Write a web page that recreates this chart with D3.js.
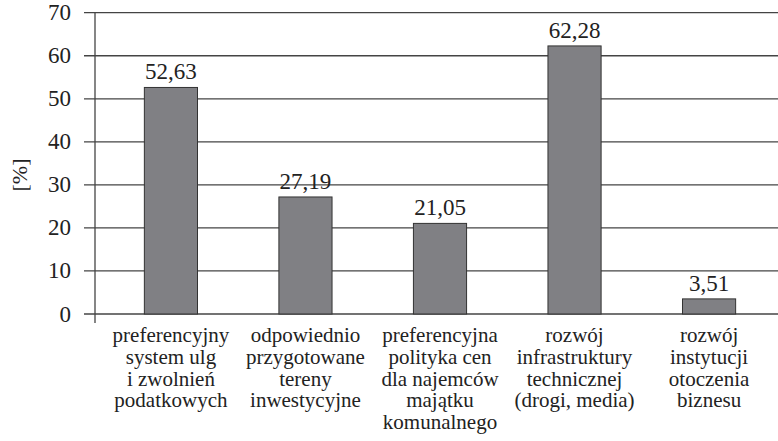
<!DOCTYPE html>
<html>
<head>
<meta charset="utf-8">
<script src="https://cdn.jsdelivr.net/npm/d3@7"></script>
<style>
  body { margin: 0; background: #fff; }
  #chart { position: relative; width: 778px; height: 441px; }
  #chart svg { position: absolute; left: 0; top: 0; }
  .lbl {
    position: absolute;
    font-family: 'Liberation Serif', 'Times New Roman', serif;
    color: #222;
    line-height: 1;
    white-space: nowrap;
  }
</style>
</head>
<body>
<div id="chart"><svg></svg></div>
<script>
const categories = [
  ['preferencyjny', 'system ulg', 'i zwolnień', 'podatkowych'],
  ['odpowiednio', 'przygotowane', 'tereny', 'inwestycyjne'],
  ['preferencyjna', 'polityka cen', 'dla najemców', 'majątku', 'komunalnego'],
  ['rozwój', 'infrastruktury', 'technicznej', '(drogi, media)'],
  ['rozwój', 'instytucji', 'otoczenia', 'biznesu']
];
const values = [52.63, 27.19, 21.05, 62.28, 3.51];
const valueLabels = ['52,63', '27,19', '21,05', '62,28', '3,51'];
const yTicks = [0, 10, 20, 30, 40, 50, 60, 70];

const s = { width: 778, height: 441 };
const axisX = 95;

window.onload = () => {
  const chart = d3.select('#chart');
  const svg = chart.select('svg')
      .attr('width', s.width)
      .attr('height', s.height);

  const y = d3.scaleLinear().domain([0, 70]).range([314, 12.7]);
  const x = d3.scaleBand()
      .domain(d3.range(values.length))
      .range([104, 776])
      .paddingInner(0.605)
      .paddingOuter(0.3);

  // gridlines + ticks
  svg.append('g')
    .selectAll('line')
    .data(yTicks)
    .join('line')
      .attr('x1', 84)
      .attr('x2', s.width)
      .attr('y1', d => y(d))
      .attr('y2', d => y(d))
      .attr('stroke', '#444')
      .attr('stroke-width', 1.3);

  // y axis line
  svg.append('line')
      .attr('x1', axisX).attr('x2', axisX)
      .attr('y1', y(70)).attr('y2', 323)
      .attr('stroke', '#444')
      .attr('stroke-width', 1.3);

  // bars
  svg.append('g')
    .selectAll('rect')
    .data(values)
    .join('rect')
      .attr('x', (d, i) => x(i))
      .attr('y', d => y(d))
      .attr('width', x.bandwidth())
      .attr('height', d => y(0) - y(d))
      .attr('fill', '#808084')
      .attr('stroke', '#333')
      .attr('stroke-width', 1);

  // text as html labels on top (serif font)
  chart.selectAll('div.tick')
    .data(yTicks)
    .join('div')
      .attr('class', 'lbl tick')
      .style('font-size', '23px')
      .style('left', '71px')
      .style('top', d => (y(d) - 11.5) + 'px')
      .style('transform', 'translateX(-100%)')
      .text(d => d);

  chart.append('div')
      .attr('class', 'lbl')
      .style('font-size', '22px')
      .style('left', '20px')
      .style('top', '175px')
      .style('transform', 'translate(-50%, -50%) rotate(-90deg)')
      .text('[%]');

  chart.selectAll('div.val')
    .data(values)
    .join('div')
      .attr('class', 'lbl val')
      .style('font-size', '23px')
      .style('left', (d, i) => (x(i) + x.bandwidth() / 2) + 'px')
      .style('top', d => (y(d) - 8 - 0.8375 * 23) + 'px')
      .style('transform', 'translateX(-50%)')
      .text((d, i) => valueLabels[i]);

  chart.selectAll('div.cat')
    .data(categories)
    .join('div')
      .attr('class', 'lbl cat')
      .style('font-size', '21px')
      .style('line-height', '21.8px')
      .style('text-align', 'center')
      .style('left', (d, i) => (x(i) + x.bandwidth() / 2) + 'px')
      .style('top', '325px')
      .style('transform', 'translateX(-50%)')
      .html(d => d.join('<br>'));
};
</script>
</body>
</html>
